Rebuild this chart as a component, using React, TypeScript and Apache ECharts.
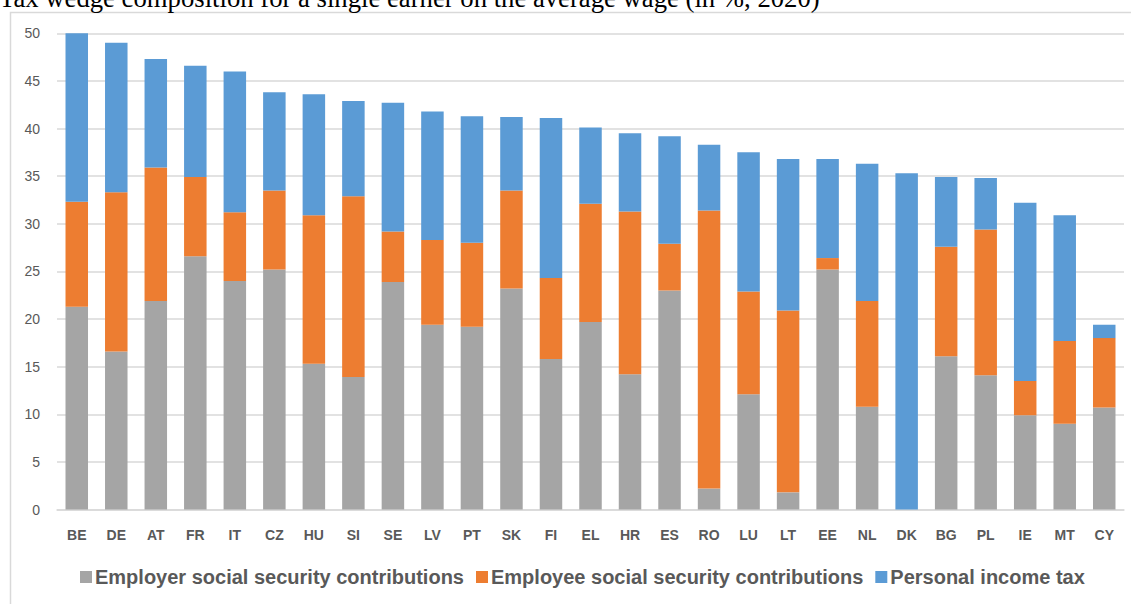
import React, { useEffect, useRef } from "react";
import * as echarts from "echarts";

const title = "Tax wedge composition for a single earner on the average wage (in %, 2020)";

const countries = ["BE", "DE", "AT", "FR", "IT", "CZ", "HU", "SI", "SE", "LV", "PT", "SK", "FI", "EL", "HR", "ES", "RO", "LU", "LT", "EE", "NL", "DK", "BG", "PL", "IE", "MT", "CY"];

// cumulative tops
const employerTop = [21.3, 16.6, 21.9, 26.6, 24.0, 25.2, 15.3, 13.9, 23.9, 19.4, 19.2, 23.2, 15.8, 19.7, 14.2, 23.0, 2.2, 12.1, 1.8, 25.2, 10.8, 0, 16.1, 14.1, 9.9, 9.0, 10.7];
const employeeTop = [32.3, 33.3, 35.9, 34.9, 31.2, 33.5, 30.9, 32.9, 29.2, 28.3, 28.0, 33.5, 24.3, 32.1, 31.3, 27.9, 31.4, 22.9, 20.9, 26.4, 21.9, 0, 27.6, 29.4, 13.5, 17.7, 18.0];
const totalTax = [50.0, 49.0, 47.3, 46.6, 46.0, 43.8, 43.6, 42.9, 42.7, 41.8, 41.3, 41.2, 41.1, 40.1, 39.5, 39.2, 38.3, 37.5, 36.8, 36.8, 36.3, 35.3, 34.9, 34.8, 32.2, 30.9, 19.4];

const seriesNames = ["Employer social security contributions", "Employee social security contributions", "Personal income tax"];
const seriesColors = ["#A5A5A5", "#ED7D31", "#5B9BD5"];

const yTicks = { min: 0, max: 50, interval: 5 };

const round1 = (v: number) => Math.round(v * 10) / 10;

export default function App() {
  const ref = useRef<HTMLDivElement>(null);
  useEffect(() => {
    if (!ref.current) return;
    const chart = echarts.init(ref.current, null, { renderer: "svg" });
    const employer = employerTop;
    const employee = employeeTop.map((v, i) => round1(v - employerTop[i]));
    const income = totalTax.map((v, i) => round1(v - employeeTop[i]));
    const data = [employer, employee, income];
    chart.setOption({
      animation: false,
      backgroundColor: "#ffffff",
      graphic: [
        {
          type: "rect",
          shape: { x: 10.5, y: 12.5, width: 1140, height: 620 },
          style: { fill: "none", stroke: "#d9d9d9", lineWidth: 1.5 },
          silent: true,
          z: -1,
        },
        {
          type: "text",
          x: -1,
          y: 11,
          style: {
            text: title,
            font: '26.7px "Liberation Serif", "Times New Roman", serif',
            fill: "#000000",
            verticalAlign: "bottom",
            align: "left",
          },
        },
      ],
      grid: { left: 57, right: 7, top: 33.3, bottom: 94.5, containLabel: false },
      legend: {
        left: 80,
        top: 567,
        padding: 0,
        icon: "rect",
        itemWidth: 12,
        itemHeight: 12,
        itemGap: 12,
        textStyle: { fontFamily: "Liberation Sans", fontWeight: "bold", fontSize: 20, color: "#595959", padding: [0, 0, 0, -2] },
        data: seriesNames,
      },
      xAxis: {
        type: "category",
        data: countries,
        axisLine: { show: true, lineStyle: { color: "#d9d9d9", width: 1.5 } },
        axisTick: { show: false },
        axisLabel: { fontFamily: "Liberation Sans", fontWeight: "bold", fontSize: 14, color: "#595959", margin: 18 },
      },
      yAxis: {
        type: "value",
        min: yTicks.min,
        max: yTicks.max,
        interval: yTicks.interval,
        axisLine: { show: false },
        axisTick: { show: false },
        splitLine: { lineStyle: { color: "#d9d9d9", width: 1.5 } },
        axisLabel: { fontFamily: "Liberation Sans", fontSize: 14, color: "#595959", margin: 17 },
      },
      series: seriesNames.map((name, i) => ({
        name,
        type: "bar",
        stack: "total",
        barWidth: 22.5,
        data: data[i],
        itemStyle: { color: seriesColors[i] },
      })),
    });
    return () => chart.dispose();
  }, []);
  return <div ref={ref} style={{ position: "fixed", left: 0, top: 0, width: 1131, height: 604 }} />;
}
